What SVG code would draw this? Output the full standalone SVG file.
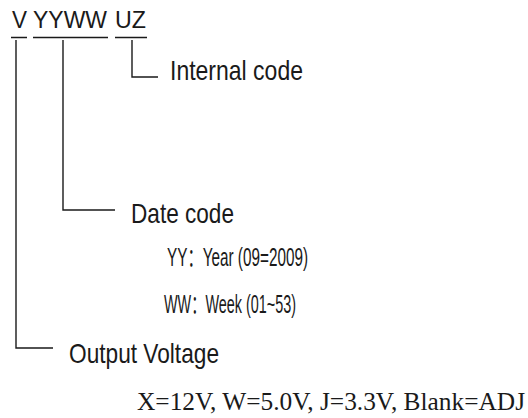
<svg xmlns="http://www.w3.org/2000/svg" width="528" height="418" viewBox="0 0 528 418">
<style>
.s{font-family:"Liberation Sans",Arial,"Noto Sans CJK SC",sans-serif;fill:#1a1a1a}
.r{font-family:"Liberation Serif","Times New Roman",serif;fill:#1a1a1a}
.ln{stroke:#1a1a1a;stroke-width:1.4;fill:none}
</style>
<rect width="528" height="418" fill="#fff"/>
<g id="code">
<text class="s" x="12" y="28" font-size="23" textLength="15" lengthAdjust="spacingAndGlyphs">V</text>
<text class="s" x="33" y="28" font-size="23" textLength="74" lengthAdjust="spacingAndGlyphs">YYWW</text>
<text class="s" x="115" y="28" font-size="23" textLength="31" lengthAdjust="spacingAndGlyphs">UZ</text>
</g>
<g id="connectors">
<path class="ln" d="M11 37.5H27M33 37.5H108M115 37.5H147"/>
<path class="ln" d="M16 40V348H53"/>
<path class="ln" d="M63 40V210H115"/>
<path class="ln" d="M132 40V77H158"/>
</g>
<g id="internal">
<text class="s" x="170" y="80" font-size="28" textLength="133" lengthAdjust="spacingAndGlyphs">Internal code</text>
</g>
<g id="date">
<text class="s" x="131" y="223" font-size="28" textLength="103" lengthAdjust="spacingAndGlyphs">Date code</text>
<text class="s" x="167" y="266" font-size="25" textLength="141" lengthAdjust="spacingAndGlyphs">YY：Year (09=2009)</text>
<text class="s" x="164" y="313" font-size="25" textLength="132" lengthAdjust="spacingAndGlyphs">WW：Week (01~53)</text>
</g>
<g id="voltage">
<text class="s" x="69" y="363" font-size="28" textLength="150" lengthAdjust="spacingAndGlyphs">Output Voltage</text>
<text class="r" x="137" y="410" font-size="25" textLength="388" lengthAdjust="spacingAndGlyphs">X=12V, W=5.0V, J=3.3V, Blank=ADJ</text>
</g>
</svg>
